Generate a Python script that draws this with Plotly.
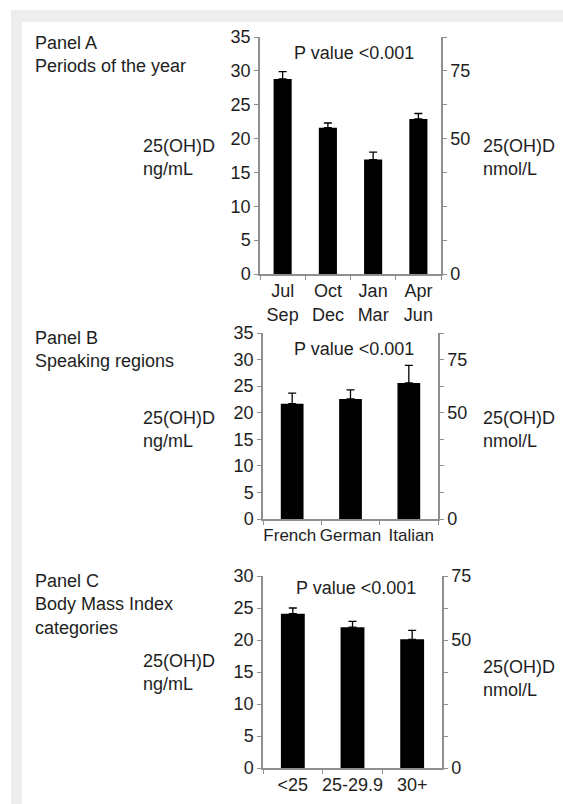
import plotly.graph_objects as go

# ---------------- data (25(OH)D, ng/mL) ----------------
season_labels = ["Jul<br>Sep", "Oct<br>Dec", "Jan<br>Mar", "Apr<br>Jun"]
season_mean = [28.8, 21.6, 16.9, 22.9]
season_upper = [29.9, 22.3, 18.0, 23.7]

region_labels = ["French\u00a0", "German", "\u00a0Italian"]
region_mean = [21.7, 22.6, 25.6]
region_upper = [23.7, 24.3, 28.9]

bmi_labels = ["<25", "25-29.9", "30+"]
bmi_mean = [24.1, 22.0, 20.1]
bmi_upper = [25.0, 22.9, 21.5]

left_ticks_35 = [0, 5, 10, 15, 20, 25, 30, 35]
left_ticks_30 = [0, 5, 10, 15, 20, 25, 30]
right_ticks_87 = [0, 12.5, 25, 37.5, 50, 62.5, 75, 87.5]
right_ticks_75 = [0, 12.5, 25, 37.5, 50, 62.5, 75]
right_labelled = {0: "0", 50: "50", 75: "75"}
NG_TO_NMOL = 2.5

W, H = 563, 804
FONT = "Liberation Sans, Arial, sans-serif"
FS = 18
TXT = "#1e1e1e"
AX = "#8f8f8f"


def px(x):
    return x / W


def py(y):
    return 1 - y / H


panels = [
    dict(cats=season_labels, mean=season_mean, upper=season_upper, xdom=(260, 441), ydom=(37, 274),
         lticks=left_ticks_35, rticks=right_ticks_87, ymax=35, bw=0.4, xfs=FS,
         title="Panel A<br>Periods of the year", title_y=31, pval_y=53,
         lab_y=157, rlab_y=157),
    dict(cats=region_labels, mean=region_mean, upper=region_upper, xdom=(263, 438), ydom=(333, 519),
         lticks=left_ticks_35, rticks=right_ticks_87, ymax=35, bw=0.39, xfs=17,
         title="Panel B<br>Speaking regions", title_y=326, pval_y=349,
         lab_y=430, rlab_y=430),
    dict(cats=bmi_labels, mean=bmi_mean, upper=bmi_upper, xdom=(263, 442), ydom=(576, 768),
         lticks=left_ticks_30, rticks=right_ticks_75, ymax=30, bw=0.4, xfs=FS,
         title="Panel C<br>Body Mass Index<br>categories", title_y=569, pval_y=588,
         lab_y=672, rlab_y=678),
]

fig = go.Figure()
layout = dict(
    width=W, height=H, autosize=False,
    margin=dict(l=0, r=0, t=0, b=0, pad=0, autoexpand=False),
    paper_bgcolor="white", plot_bgcolor="white", showlegend=False,
    font=dict(family=FONT, size=FS, color=TXT),
    shapes=[], annotations=[],
)

for i, p in enumerate(panels):
    n = i + 1
    xa = "x" if n == 1 else f"x{n}"
    yl_i = 2 * i + 1
    yr_i = 2 * i + 2
    yl = "y" if yl_i == 1 else f"y{yl_i}"
    yr = f"y{yr_i}"
    err = [u - m for u, m in zip(p["upper"], p["mean"])]

    fig.add_trace(go.Bar(
        x=p["cats"], y=p["mean"], xaxis=xa, yaxis=yl, width=p["bw"],
        marker=dict(color="black", line=dict(width=0)),
        error_y=dict(type="data", symmetric=False, array=err, arrayminus=[0] * len(err),
                     color="black", thickness=1.3, width=4),
        hoverinfo="skip",
    ))
    # invisible helper so the nmol/L axis is drawn
    fig.add_trace(go.Scatter(
        x=p["cats"], y=[m * NG_TO_NMOL for m in p["mean"]], xaxis=xa, yaxis=yr,
        mode="markers", marker=dict(opacity=0), hoverinfo="skip",
    ))

    xkey = "xaxis" if n == 1 else f"xaxis{n}"
    ylkey = "yaxis" if yl_i == 1 else f"yaxis{yl_i}"
    yrkey = f"yaxis{yr_i}"
    ydomain = [py(p["ydom"][1]), py(p["ydom"][0])]
    layout[xkey] = dict(
        domain=[px(p["xdom"][0]), px(p["xdom"][1])], anchor=yl, automargin=False,
        type="category", range=[-0.5, len(p["cats"]) - 0.5], tickangle=0,
        showline=True, linecolor=AX, linewidth=1.5, ticks="outside", tickson="boundaries",
        ticklen=4, tickcolor=AX, tickwidth=1.2, showgrid=False, zeroline=False,
        tickfont=dict(family=FONT, size=p["xfs"], color=TXT), fixedrange=True,
    )
    layout[ylkey] = dict(
        domain=ydomain, anchor=xa, range=[0, p["ymax"]], automargin=False,
        tickmode="array", tickvals=p["lticks"], ticktext=[str(t) for t in p["lticks"]],
        showline=True, linecolor=AX, linewidth=1.5, ticks="outside", ticklen=4,
        tickcolor=AX, tickwidth=1.2, showgrid=False, zeroline=False,
        tickfont=dict(family=FONT, size=FS, color=TXT), fixedrange=True,
    )
    layout[yrkey] = dict(
        overlaying=yl, side="right", anchor=xa, range=[0, p["ymax"] * NG_TO_NMOL],
        automargin=False, tickmode="array", tickvals=p["rticks"],
        ticktext=[right_labelled.get(t, "") for t in p["rticks"]],
        showline=True, linecolor=AX, linewidth=1.5, ticks="outside", ticklen=4,
        tickcolor=AX, tickwidth=1.2, showgrid=False, zeroline=False,
        tickfont=dict(family=FONT, size=FS, color=TXT), fixedrange=True,
    )

    ann = layout["annotations"]
    ann.append(dict(text=p["title"], x=px(33), y=py(p["title_y"]), xref="paper", yref="paper",
                    xanchor="left", yanchor="top", align="left", showarrow=False,
                    font=dict(family=FONT, size=FS, color=TXT)))
    ann.append(dict(text="P value <0.001", x=px((p["xdom"][0] + p["xdom"][1]) / 2 + 3),
                    y=py(p["pval_y"]), xref="paper", yref="paper",
                    xanchor="center", yanchor="middle", showarrow=False,
                    font=dict(family=FONT, size=FS, color=TXT)))
    ann.append(dict(text="25(OH)D<br>ng/mL", x=px(141), y=py(p["lab_y"]), xref="paper", yref="paper",
                    xanchor="left", yanchor="middle", align="left", showarrow=False,
                    font=dict(family=FONT, size=FS, color=TXT)))
    ann.append(dict(text="25(OH)D<br>nmol/L", x=px(481), y=py(p["rlab_y"]), xref="paper", yref="paper",
                    xanchor="left", yanchor="middle", align="left", showarrow=False,
                    font=dict(family=FONT, size=FS, color=TXT)))

# light grey frame at top and left
layout["shapes"] = [
    dict(type="rect", xref="paper", yref="paper", x0=px(11), x1=px(563), y0=py(22), y1=py(10),
         fillcolor="#ededed", line=dict(width=0), layer="below"),
    dict(type="rect", xref="paper", yref="paper", x0=px(11), x1=px(22), y0=py(804), y1=py(10),
         fillcolor="#ededed", line=dict(width=0), layer="below"),
]

fig.update_layout(**layout)
fig.write_html(
    "out.html",
    config={"displayModeBar": False},
    post_script="document.body.style.margin='0px';document.body.style.padding='0px';"
                "document.documentElement.style.overflow='hidden';",
)
